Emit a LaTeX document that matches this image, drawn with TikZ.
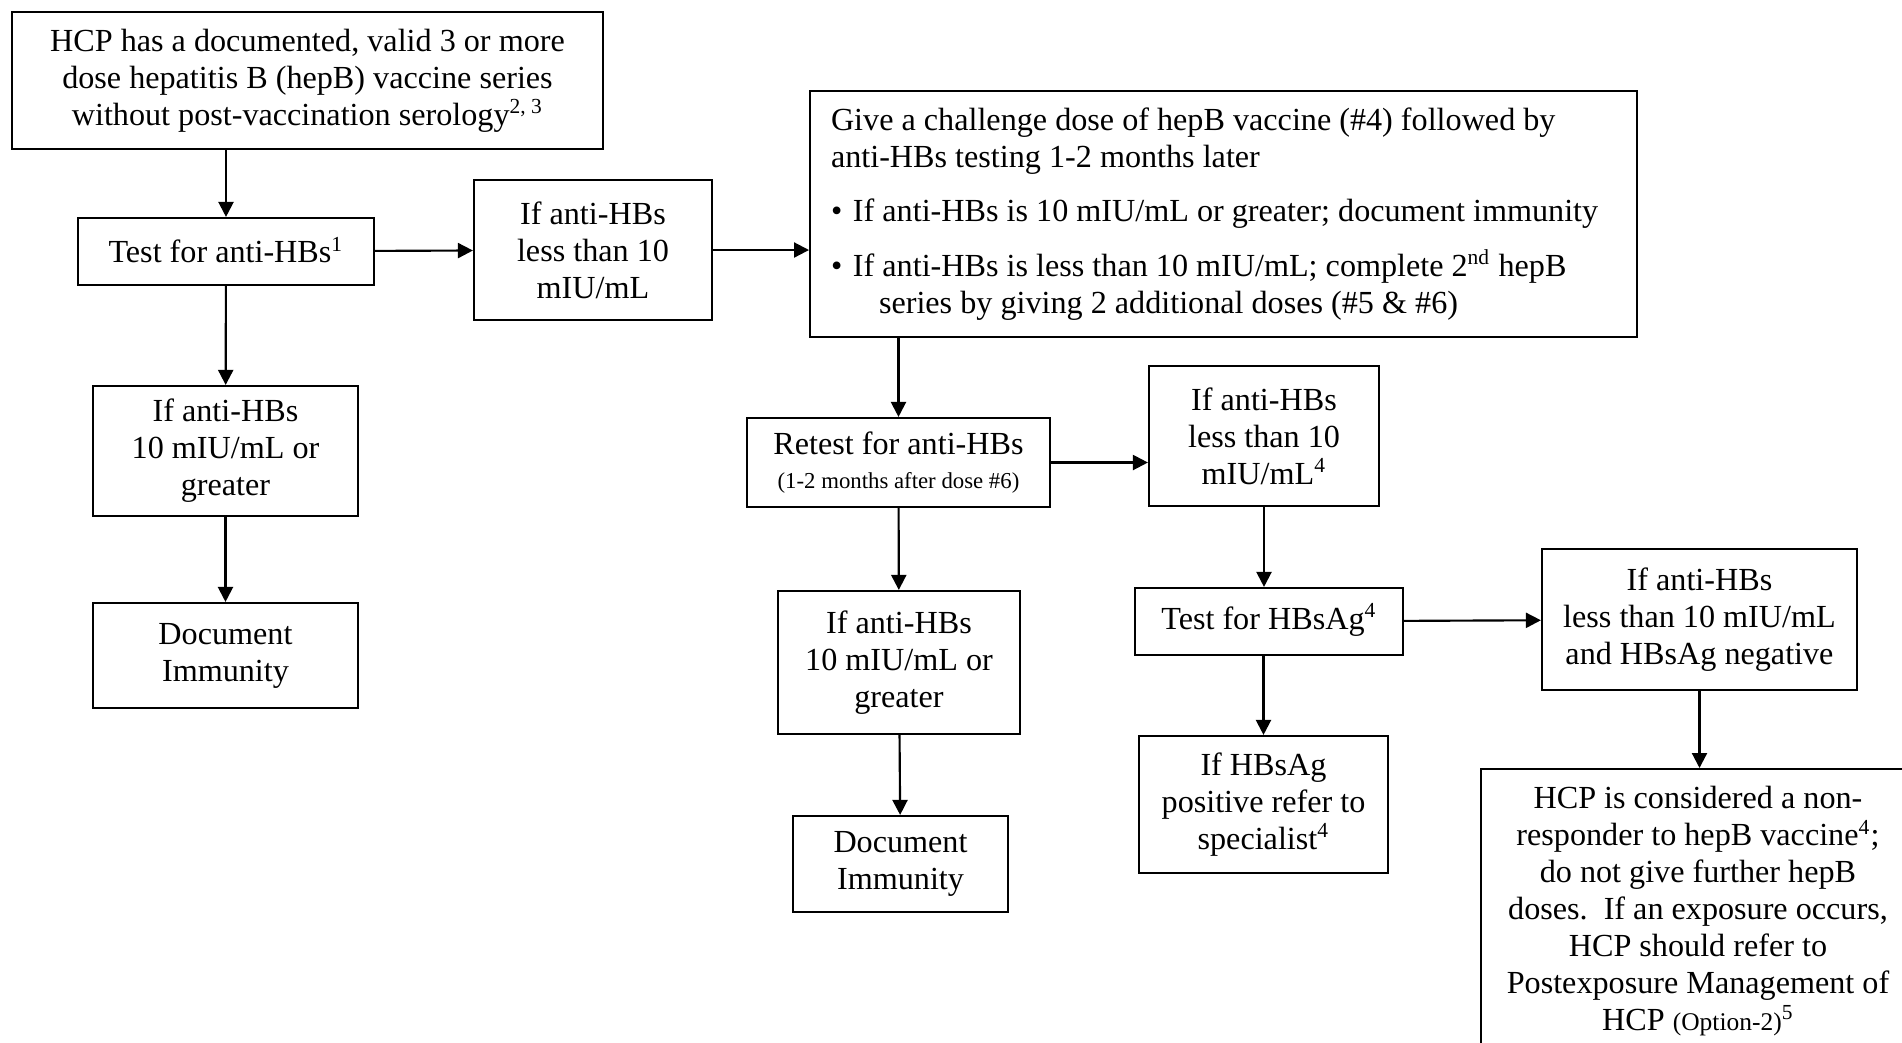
\documentclass[tikz,border=0pt]{standalone}
\usepackage{fontspec}
\setmainfont{Liberation Serif}
\usetikzlibrary{shapes,arrows,arrows.meta,positioning,fit,backgrounds}

\begin{document}
\begin{tikzpicture}[x=0.373pt, y=-0.373pt,
	every node/.style={font=\fontsize{12}{13.8}\selectfont},
	box/.style 2 args={draw, line width=0.8pt, align=center, inner sep=0pt, minimum width=#1*0.373pt, minimum height=#2*0.373pt},
	link/.style={-{Triangle[length=5.6pt,width=5.6pt]}, line width=0.8pt}]
	\useasboundingbox (0,0) rectangle (1902,1042);
	% left column
	\node[box={591}{137}] (start) at (307.5,80.5) {HCP has a documented, valid 3 or more\\dose hepatitis B (hepB) vaccine series\\without post-vaccination serology\textsuperscript{2, 3}};
	\node[box={296}{67}] (test) at (226,251.5) {Test for anti-HBs\smash{\textsuperscript{1}}};
	\node[box={265}{130}] (high1) at (225.5,451) {If anti-HBs\\10 mIU/mL or\\greater};
	\node[box={265}{105}] (imm1) at (225.5,655.5) {Document\\Immunity};
	\node[box={238}{140}] (low1) at (593,250) {If anti-HBs\\less than 10\\mIU/mL};
	% challenge dose
	\node[draw, line width=0.8pt, align=flush left, inner xsep=7.8pt, text width=292.8pt, minimum height=246*0.373pt] (chal) at (1223.5,214) {Give a challenge dose of hepB vaccine (\#4) followed by\\anti-HBs testing 1-2 months later\\[6.5pt]\mbox{\makebox[8.2pt][l]{\textbullet}If anti-HBs is 10 mIU/mL or greater; document immunity}\\[6.5pt]\mbox{\makebox[8.2pt][l]{\textbullet}If anti-HBs is less than 10 mIU/mL; complete 2\textsuperscript{nd} hepB}\\\hspace*{17.9pt}series by giving 2 additional doses (\#5 \& \#6)};
	% second series
	\node[box={303}{89}] (retest) at (898.5,462.5) {Retest for anti-HBs\\[-1pt]{\fontsize{8.5}{10}\selectfont (1-2 months after dose \#6)}};
	\node[box={242}{143}] (high2) at (899,662.5) {If anti-HBs\\10 mIU/mL or\\greater};
	\node[box={215}{96}] (imm2) at (900.5,864) {Document\\Immunity};
	\node[box={230}{140}] (low2) at (1264,436) {If anti-HBs\\less than 10\\mIU/mL\textsuperscript{4}};
	\node[box={268}{67}] (hbsag) at (1269,621.5) {Test for HBsAg\smash{\textsuperscript{4}}};
	\node[box={249}{137}] (pos) at (1263.5,804.5) {If HBsAg\\positive refer to\\specialist\textsuperscript{4}};
	\node[box={315}{141}] (neg) at (1699.5,619.5) {If anti-HBs\\less than 10 mIU/mL\\and HBsAg negative};
	\node[draw, line width=0.8pt, align=center, anchor=north, inner xsep=0pt, inner ysep=6.5pt, minimum width=434*0.373pt] (nonresp) at (1698,768) {HCP is considered a non-\\responder to hepB vaccine\textsuperscript{4};\\do not give further hepB\\doses.\ \ If an exposure occurs,\\HCP should refer to\\Postexposure Management of\\HCP {\fontsize{9.5}{10}\selectfont (Option-2)}\textsuperscript{5}};
	% connectors
	\draw[link] (start.south -| test) -- (test);
	\draw[link] (test) -- (low1);
	\draw[link] (low1.east) -- (low1.east -| chal.west);
	\draw[link] (test) -- (high1);
	\draw[link] (high1) -- (imm1);
	\draw[link] (chal.south -| retest) -- (retest);
	\draw[link] (retest.east) -- (retest.east -| low2.west);
	\draw[link] (retest) -- (high2);
	\draw[link] (high2) -- (imm2);
	\draw[link] (low2.south) -- (low2.south |- hbsag.north);
	\draw[link] (hbsag) -- (neg);
	\draw[link] (hbsag.south -| pos) -- (pos);
	\draw[link] (neg.south) -- (neg.south |- nonresp.north);
\end{tikzpicture}
\end{document}
